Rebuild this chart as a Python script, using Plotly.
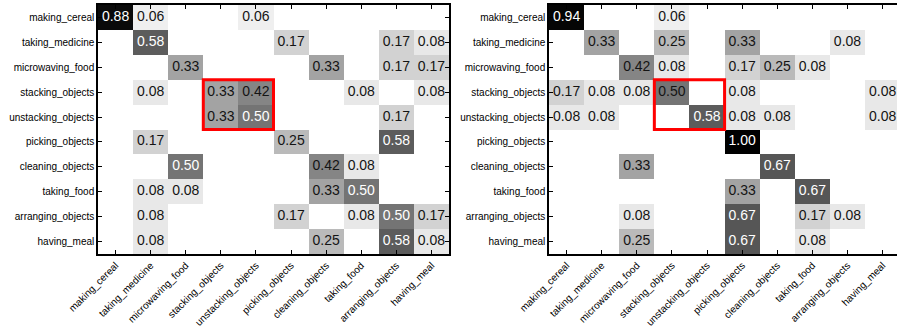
import plotly.graph_objects as go

labels = ["making_cereal", "taking_medicine", "microwaving_food", "stacking_objects",
          "unstacking_objects", "picking_objects", "cleaning_objects", "taking_food",
          "arranging_objects", "having_meal"]

left_matrix = [
    [0.88, 0.06, 0, 0, 0.06, 0, 0, 0, 0, 0],
    [0, 0.58, 0, 0, 0, 0.17, 0, 0, 0.17, 0.08],
    [0, 0, 0.33, 0, 0, 0, 0.33, 0, 0.17, 0.17],
    [0, 0.08, 0, 0.33, 0.42, 0, 0, 0.08, 0, 0.08],
    [0, 0, 0, 0.33, 0.50, 0, 0, 0, 0.17, 0],
    [0, 0.17, 0, 0, 0, 0.25, 0, 0, 0.58, 0],
    [0, 0, 0.50, 0, 0, 0, 0.42, 0.08, 0, 0],
    [0, 0.08, 0.08, 0, 0, 0, 0.33, 0.50, 0, 0],
    [0, 0.08, 0, 0, 0, 0.17, 0, 0.08, 0.50, 0.17],
    [0, 0.08, 0, 0, 0, 0, 0.25, 0, 0.58, 0.08],
]

right_matrix = [
    [0.94, 0, 0, 0.06, 0, 0, 0, 0, 0, 0],
    [0, 0.33, 0, 0.25, 0, 0.33, 0, 0, 0.08, 0],
    [0, 0, 0.42, 0.08, 0, 0.17, 0.25, 0.08, 0, 0],
    [0.17, 0.08, 0.08, 0.50, 0, 0.08, 0, 0, 0, 0.08],
    [0.08, 0.08, 0, 0, 0.58, 0.08, 0.08, 0, 0, 0.08],
    [0, 0, 0, 0, 0, 1.00, 0, 0, 0, 0],
    [0, 0, 0.33, 0, 0, 0, 0.67, 0, 0, 0],
    [0, 0, 0, 0, 0, 0.33, 0, 0.67, 0, 0],
    [0, 0, 0.08, 0, 0, 0.67, 0, 0.17, 0.08, 0],
    [0, 0, 0.25, 0, 0, 0.67, 0, 0.08, 0, 0],
]

highlight = ["stacking_objects", "unstacking_objects"]

# cells whose label is drawn dark despite value >= 0.5 (as in the reference)
dark_label_overrides = {("right", 3, 3)}

colorscale = [
    [0.0, "#ffffff"], [0.06, "#efefef"], [0.08, "#e8e8e8"], [0.17, "#d2d2d2"],
    [0.25, "#bababa"], [0.33, "#a3a3a3"], [0.42, "#858585"], [0.50, "#747474"],
    [0.58, "#5c5c5c"], [0.67, "#565656"], [0.88, "#0a0a0a"], [1.0, "#000000"],
]

FONT = "Liberation Sans, Arial, Helvetica, sans-serif"
W, H = 897, 329
n = len(labels)
idx = list(range(n))

fig = go.Figure()

panels = [("left", left_matrix, "x", "y"), ("right", right_matrix, "x2", "y2")]
for name, mat, xa, ya in panels:
    fig.add_trace(go.Heatmap(z=mat, x=idx, y=idx, colorscale=colorscale, zmin=0, zmax=1,
                             showscale=False, xaxis=xa, yaxis=ya, hoverinfo="skip"))
    tx, ty, tt, tc = [], [], [], []
    for r in range(n):
        for c in range(n):
            v = mat[r][c]
            if v > 0:
                tx.append(c); ty.append(r); tt.append(f"{v:.2f}")
                white = v >= 0.5 and (name, r, c) not in dark_label_overrides
                tc.append("white" if white else "#141414")
    fig.add_trace(go.Scatter(x=tx, y=ty, text=tt, mode="text", xaxis=xa, yaxis=ya,
                             textfont=dict(family=FONT, size=14, color=tc),
                             cliponaxis=False, hoverinfo="skip", showlegend=False))
    i0 = labels.index(highlight[0]); i1 = labels.index(highlight[-1])
    fig.add_shape(type="rect", xref=xa, yref=ya, x0=i0 - 0.5, x1=i1 + 0.5,
                  y0=i0 - 0.5, y1=i1 + 0.5, line=dict(color="#ff0000", width=3))

ydom = [(H - 254) / H, (H - 5) / H]
axis_common = dict(tickvals=idx, ticktext=labels, ticks="inside", ticklen=4,
                   tickcolor="black", tickwidth=1, showline=True, linecolor="black",
                   linewidth=1.5, showgrid=False, zeroline=False, automargin=False)
yfont = dict(family=FONT, size=10, color="black")
xfont = dict(family=FONT, size=10, color="black")

fig.update_layout(
    width=W, height=H, margin=dict(l=0, r=0, t=0, b=0, autoexpand=False),
    plot_bgcolor="white", paper_bgcolor="white", showlegend=False,
    xaxis=dict(domain=[98 / W, 449 / W], range=[-0.5, 9.5], tickangle=-45,
               mirror="ticks", anchor="y", tickfont=xfont, **axis_common),
    yaxis=dict(domain=ydom, range=[9.5, -0.5], mirror="ticks", anchor="x",
               tickfont=yfont, **axis_common),
    xaxis2=dict(domain=[549 / W, 1.0], range=[-0.5, 9.41], tickangle=-45,
                mirror="ticks", anchor="y2", tickfont=xfont, **axis_common),
    yaxis2=dict(domain=ydom, range=[9.5, -0.5], mirror=False, anchor="x2",
                tickfont=yfont, **axis_common),
)

fig.write_html("out.html", config={"displayModeBar": False},
               post_script="document.body.style.margin='0';document.body.style.overflow='hidden';")
